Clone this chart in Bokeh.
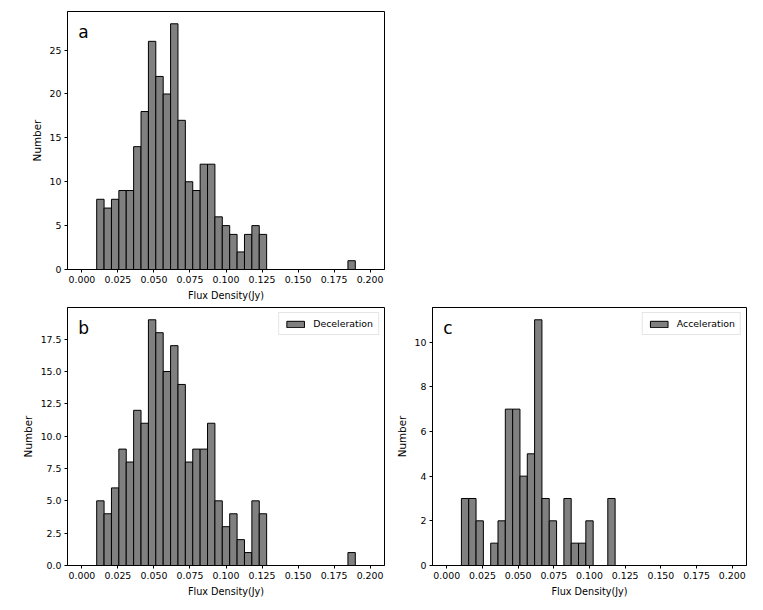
import numpy as np
from bokeh.plotting import figure
from bokeh.models import Range1d, FixedTicker, NumeralTickFormatter, Label
from bokeh.layouts import column, row
from bokeh.embed import file_html
from bokeh.resources import INLINE

# ---- data (histogram counts, 39 bins over 0..0.2 Jy) ----
n_bins = 39
hist_range = (0.0, 0.2)
counts_all = [0, 0, 8, 7, 8, 9, 9, 14, 18, 26, 22, 20, 28, 17, 10, 9, 12, 12, 6, 5, 4, 2, 4, 5, 4,
              0, 0, 0, 0, 0, 0, 0, 0, 0, 0, 0, 1, 0, 0]
counts_dec = [0, 0, 5, 4, 6, 9, 8, 12, 11, 19, 18, 15, 17, 14, 8, 9, 9, 11, 5, 3, 4, 2, 1, 5, 4,
              0, 0, 0, 0, 0, 0, 0, 0, 0, 0, 0, 1, 0, 0]
counts_acc = [0, 0, 3, 3, 2, 0, 1, 2, 7, 7, 4, 5, 11, 3, 2, 0, 3, 1, 1, 2, 0, 0, 3,
              0, 0, 0, 0, 0, 0, 0, 0, 0, 0, 0, 0, 0, 0, 0, 0]
x_ticks = [0.0, 0.025, 0.05, 0.075, 0.1, 0.125, 0.15, 0.175, 0.2]
yticks_a = [0, 5, 10, 15, 20, 25]
yticks_b = [0, 2.5, 5, 7.5, 10, 12.5, 15, 17.5]
yticks_c = [0, 2, 4, 6, 8, 10]
panel_letters = ["a", "b", "c"]
legend_labels = [None, "Deceleration", "Acceleration"]
x_label = "Flux Density(Jy)"
y_label = "Number"

edges = np.linspace(hist_range[0], hist_range[1], n_bins + 1)
FONT = "DejaVu Sans"
FS = "9.4px"
XMIN, XMAX = -0.01, 0.21


def make_panel(counts, yticks, yfmt, letter, leg, width, height, bl, br, bt, bb):
    ymax = max(counts) * 1.05
    p = figure(width=width, height=height, output_backend="svg", toolbar_location=None,
               x_range=Range1d(XMIN, XMAX), y_range=Range1d(0, ymax),
               min_border_left=bl, min_border_right=br, min_border_top=bt, min_border_bottom=bb)
    kw = dict(left=edges[:-1], right=edges[1:], top=counts, bottom=0,
              fill_color="#808080", line_color="black", line_width=1)
    if leg:
        p.quad(legend_label=leg, **kw)
    else:
        p.quad(**kw)
    p.grid.visible = False
    p.outline_line_color = "black"
    p.outline_line_width = 1
    p.background_fill_color = "white"
    p.border_fill_color = "white"
    for ax in (p.xaxis[0], p.yaxis[0]):
        ax.axis_line_color = "black"
        ax.major_tick_line_color = "black"
        ax.major_tick_out = 3
        ax.major_tick_in = 0
        ax.minor_tick_line_color = None
        ax.major_label_text_font = FONT
        ax.major_label_text_font_size = FS
        ax.major_label_text_color = "black"
        ax.major_label_standoff = 3
        ax.axis_label_text_font = FONT
        ax.axis_label_text_font_style = "normal"
        ax.axis_label_text_color = "black"
        ax.axis_label_standoff = 4
    p.xaxis.axis_label_text_font_size = "9.7px"
    p.yaxis.axis_label_text_font_size = "10.4px"
    p.xaxis.ticker = FixedTicker(ticks=x_ticks)
    p.xaxis.formatter = NumeralTickFormatter(format="0.000")
    p.yaxis.ticker = FixedTicker(ticks=yticks)
    p.yaxis.formatter = NumeralTickFormatter(format=yfmt)
    p.xaxis.axis_label = x_label
    p.yaxis.axis_label = y_label
    lab = Label(x=XMIN + 0.034 * (XMAX - XMIN), y=ymax * (1 - 0.0795), text=letter,
                text_font=FONT, text_font_size="17px", text_color="black",
                text_align="left", text_baseline="alphabetic")
    p.add_layout(lab)
    if leg:
        lg = p.legend[0]
        lg.location = "top_right"
        lg.margin = 5
        lg.padding = 5
        lg.spacing = 0
        lg.glyph_width = 22
        lg.glyph_height = 8
        lg.label_height = 9
        lg.label_standoff = 7
        lg.label_text_font = FONT
        lg.label_text_font_size = FS
        lg.label_text_color = "black"
        lg.border_line_color = "#cccccc"
        lg.border_line_width = 1
        lg.background_fill_color = "white"
        lg.background_fill_alpha = 0.8
    return p


pa = make_panel(counts_all, yticks_a, "0", panel_letters[0], legend_labels[0],
                394, 303, 67, 10, 11, 34)
pb = make_panel(counts_dec, yticks_b, "0.0", panel_letters[1], legend_labels[1],
                392, 298, 67, 8, 4, 36)
pc = make_panel(counts_acc, yticks_c, "0", panel_letters[2], legend_labels[2],
                359, 298, 39, 5, 4, 36)

layout = column(pa, row(pb, pc))
open("out.html", "w").write(file_html(layout, INLINE))
